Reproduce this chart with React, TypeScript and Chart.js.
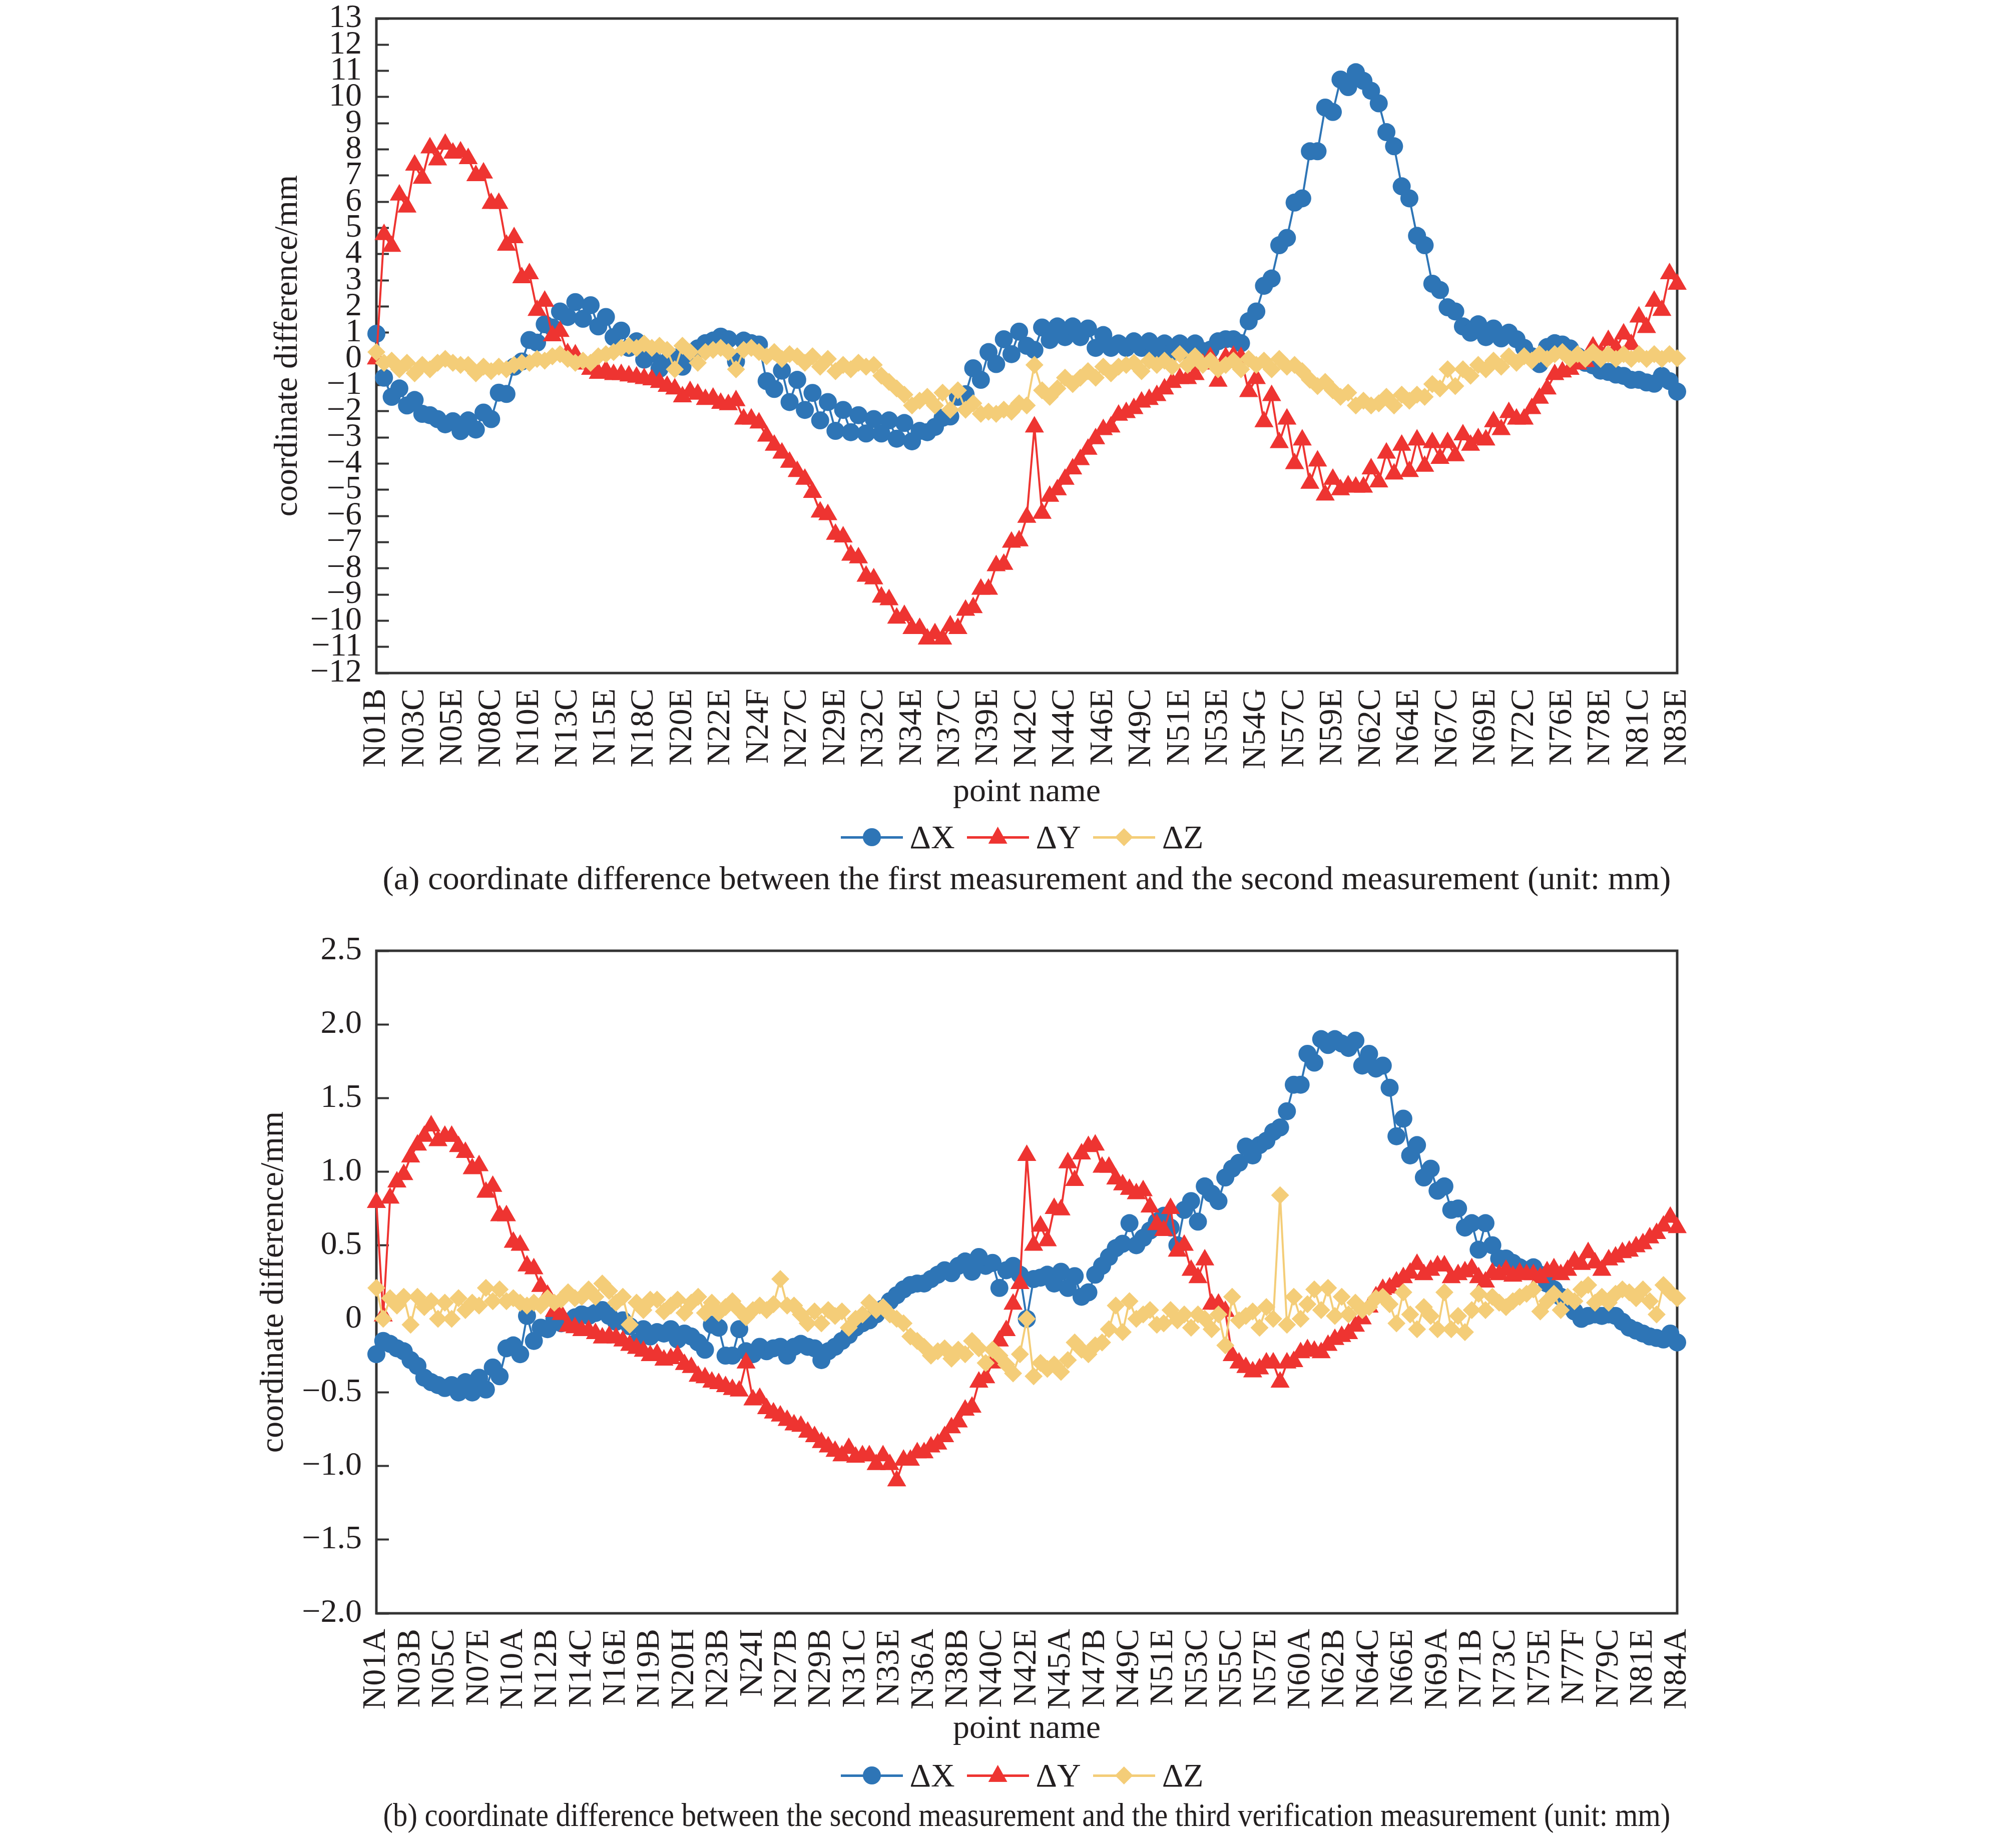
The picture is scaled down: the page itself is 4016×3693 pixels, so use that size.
import React, { useEffect, useRef } from 'react';
import { Chart, registerables } from 'chart.js';

Chart.register(...registerables);

const FONT = "'Liberation Serif', 'DejaVu Serif', serif";
const TEXT = '#231f20';
const AXIS = '#333333';
const BLUE = '#2e75b6';
const RED = '#ee3431';
const YELLOW = '#f4cd78';

// ---------- (a) first vs second measurement ----------
const topTickLabels = ['N01B', 'N03C', 'N05E', 'N08C', 'N10E', 'N13C', 'N15E', 'N18C', 'N20E', 'N22E', 'N24F', 'N27C', 'N29E', 'N32C', 'N34E', 'N37C', 'N39E', 'N42C', 'N44C', 'N46E', 'N49C', 'N51E', 'N53E', 'N54G', 'N57C', 'N59E', 'N62C', 'N64E', 'N67C', 'N69E', 'N72C', 'N76E', 'N78E', 'N81C', 'N83E'];

const topDX = [
  0.96, -0.72, -1.45, -1.13, -1.78, -1.57, -2.1, -2.15, -2.3, -2.5,
  -2.38, -2.76, -2.35, -2.7, -2.05, -2.3, -1.29, -1.34, -0.3, -0.1,
  0.72, 0.62, 1.32, 1.2, 1.81, 1.6, 2.17, 1.53, 2.05, 1.24,
  1.6, 0.83, 1.08, 0.42, 0.67, -0.03, 0.2, -0.38, -0.1, 0.05,
  -0.3, 0.2, 0.4, 0.6, 0.7, 0.85, 0.75, -0.1, 0.7, 0.6,
  0.55, -0.85, -1.15, -0.45, -1.65, -0.8, -1.95, -1.3, -2.35, -1.65,
  -2.75, -1.95, -2.8, -2.15, -2.85, -2.3, -2.85, -2.35, -3.05, -2.45,
  -3.15, -2.75, -2.8, -2.6, -2.25, -2.2, -1.45, -1.35, -0.36, -0.8,
  0.26, -0.2, 0.75, 0.18, 1.04, 0.5, 0.34, 1.2, 0.72, 1.24,
  0.83, 1.24, 0.83, 1.16, 0.42, 0.91, 0.42, 0.59, 0.42, 0.67,
  0.42, 0.67, 0.34, 0.59, 0.26, 0.59, 0.26, 0.59, 0.3, 0.35,
  0.67, 0.75, 0.75, 0.6, 1.44, 1.81, 2.79, 3.07, 4.34, 4.62,
  5.97, 6.13, 7.93, 7.93, 9.6, 9.43, 10.67, 10.38, 10.95, 10.62,
  10.24, 9.76, 8.66, 8.12, 6.59, 6.13, 4.7, 4.34, 2.87, 2.63,
  1.97, 1.81, 1.24, 1.0, 1.32, 0.83, 1.16, 0.78, 1.0, 0.75,
  0.42, 0.1, -0.2, 0.45, 0.6, 0.55, 0.4, 0.1, -0.15, -0.25,
  -0.45, -0.5, -0.6, -0.65, -0.8, -0.8, -0.9, -0.95, -0.65, -0.85,
  -1.25,
];

const topDY = [
  0, 4.75, 4.3, 6.26, 5.8, 7.4, 6.9, 8.06, 7.6, 8.2,
  7.86, 7.9, 7.65, 7.0, 7.1, 5.94, 5.94, 4.34, 4.63, 3.1,
  3.25, 1.85, 2.2, 0.88, 1.05, 0.2, 0.15, -0.2, -0.4, -0.55,
  -0.45, -0.6, -0.6, -0.65, -0.7, -0.75, -0.8, -0.9, -1.05, -1.15,
  -1.45, -1.25, -1.35, -1.55, -1.5, -1.7, -1.75, -1.6, -2.3, -2.3,
  -2.45, -2.95, -3.3, -3.6, -3.95, -4.3, -4.6, -5.1, -5.85, -5.95,
  -6.7, -6.8, -7.5, -7.6, -8.3, -8.4, -9.1, -9.2, -9.9, -9.8,
  -10.3, -10.3, -10.7, -10.5, -10.7, -10.2, -10.3, -9.6, -9.5, -8.8,
  -8.8, -7.9, -7.85, -7.0, -6.95, -6.05, -2.6, -5.9, -5.25, -5.0,
  -4.6, -4.2, -3.85, -3.45, -3.05, -2.7, -2.6, -2.15, -2.05, -1.9,
  -1.65, -1.55, -1.4, -1.15, -0.9, -0.75, -0.75, -0.6, -0.2, 0.05,
  -0.85, 0.05, 0.1, 0.05, -1.25, -0.75, -2.4, -1.4, -3.2, -2.3,
  -4.0, -3.1, -4.75, -3.9, -5.2, -4.6, -5.0, -4.85, -4.9, -4.9,
  -4.2, -4.7, -3.6, -4.4, -3.3, -4.3, -3.1, -4.1, -3.2, -3.8,
  -3.2, -3.7, -2.9, -3.3, -3.05, -3.1, -2.4, -2.7, -2.05, -2.3,
  -2.3, -1.9, -1.5, -1.15, -0.6, -0.5, -0.4, -0.2, -0.1, 0.45,
  0.2, 0.7, 0.4, 0.95, 0.55, 1.6, 1.2, 2.2, 1.85, 3.25,
  2.85,
];

const topDZ = [
  0.26, -0.15, -0.07, -0.4, -0.15, -0.55, -0.23, -0.4, -0.15, 0.0,
  -0.15, -0.23, -0.23, -0.55, -0.3, -0.47, -0.3, -0.4, -0.23, -0.15,
  -0.15, 0.0, -0.07, 0.1, 0.18, 0.0, -0.15, -0.07, -0.15, 0.1,
  0.18, 0.26, 0.42, 0.5, 0.42, 0.58, 0.42, 0.5, 0.34, -0.4,
  0.5, 0.26, -0.15, 0.26, 0.34, 0.42, 0.26, -0.4, 0.34, 0.42,
  0.26, 0.1, 0.26, 0.0, 0.18, 0.1, -0.15, 0.1, -0.3, 0.0,
  -0.47, -0.23, -0.4, -0.15, -0.3, -0.23, -0.64, -0.88, -1.13, -1.37,
  -1.78, -1.6, -1.45, -1.78, -1.29, -1.94, -1.2, -1.94, -1.7, -2.1,
  -2.02, -2.1, -1.94, -2.02, -1.7, -1.78, -0.23, -1.2, -1.45, -1.13,
  -0.72, -0.96, -0.72, -0.47, -0.72, -0.3, -0.55, -0.3, -0.23, -0.15,
  -0.47, -0.07, -0.23, -0.07, -0.3, 0.18, -0.23, 0.1, -0.23, -0.07,
  -0.4, -0.23, -0.07, -0.4, 0.0, -0.23, -0.07, -0.4, 0.0, -0.3,
  -0.23, -0.47, -0.8, -1.04, -0.88, -1.2, -1.45, -1.29, -1.78, -1.6,
  -1.78, -1.7, -1.45, -1.78, -1.37, -1.6, -1.37, -1.45, -0.96, -1.13,
  -0.4, -1.04, -0.4, -0.64, -0.23, -0.4, -0.07, -0.3, 0.1, -0.15,
  0.1, -0.07, 0.18, 0.0, 0.18, 0.26, 0.0, 0.18, 0.0, 0.26,
  0.0, 0.18, 0.0, 0.18, 0.0, 0.18, 0.0, 0.18, 0.0, 0.18,
  0.02,
];

// ---------- (b) second vs third verification measurement ----------
const bottomTickLabels = ['N01A', 'N03B', 'N05C', 'N07E', 'N10A', 'N12B', 'N14C', 'N16E', 'N19B', 'N20H', 'N23B', 'N24I', 'N27B', 'N29B', 'N31C', 'N33E', 'N36A', 'N38B', 'N40C', 'N42E', 'N45A', 'N47B', 'N49C', 'N51E', 'N53C', 'N55C', 'N57E', 'N60A', 'N62B', 'N64C', 'N66E', 'N69A', 'N71B', 'N73C', 'N75E', 'N77F', 'N79C', 'N81E', 'N84A'];

const bottomDX = [
  -0.24, -0.15, -0.17, -0.2, -0.22, -0.28, -0.32, -0.4, -0.43, -0.45,
  -0.47, -0.45, -0.5, -0.43, -0.5, -0.4, -0.48, -0.33, -0.39, -0.2,
  -0.18, -0.24, 0.02, -0.15, -0.06, -0.07, 0.0, -0.03, -0.02, 0.01,
  0.03, 0.02, 0.04, 0.06, 0.02, -0.02, -0.01, -0.05, -0.16, -0.07,
  -0.12, -0.09, -0.1, -0.07, -0.14, -0.1, -0.12, -0.16, -0.21, -0.04,
  -0.06, -0.25, -0.25, -0.07, -0.22, -0.24, -0.19, -0.22, -0.2, -0.19,
  -0.25, -0.19, -0.17, -0.19, -0.2, -0.28, -0.22, -0.19, -0.15, -0.11,
  -0.06, -0.03, -0.01, 0.03, 0.07, 0.12, 0.16, 0.2, 0.23, 0.24,
  0.24, 0.27, 0.3, 0.33, 0.31, 0.36, 0.39, 0.32, 0.42, 0.36,
  0.38, 0.21, 0.33, 0.36, 0.3, 0.0, 0.27, 0.28, 0.3, 0.24,
  0.32, 0.21, 0.29, 0.15, 0.18, 0.3, 0.36, 0.42, 0.48, 0.51,
  0.65, 0.5, 0.55, 0.6, 0.66, 0.7, 0.62, 0.5, 0.74, 0.8,
  0.66, 0.9, 0.85, 0.8, 0.96, 1.02, 1.06, 1.17, 1.11, 1.18,
  1.21, 1.27, 1.3, 1.41, 1.59, 1.59, 1.8, 1.74, 1.9, 1.86,
  1.9, 1.87, 1.84, 1.89, 1.72, 1.8, 1.7, 1.72, 1.57, 1.24,
  1.36, 1.11, 1.18, 0.96, 1.02, 0.87, 0.9, 0.74, 0.75, 0.62,
  0.65, 0.47, 0.65, 0.5, 0.41, 0.41, 0.38, 0.35, 0.33, 0.35,
  0.3, 0.24, 0.2, 0.15, 0.09, 0.05, 0.0, 0.02, 0.03, 0.02,
  0.03, 0.02, -0.02, -0.06, -0.08, -0.1, -0.12, -0.13, -0.14, -0.1,
  -0.16,
];

const bottomDY = [
  0.79, 0.02, 0.82, 0.93, 0.98, 1.1, 1.18, 1.24, 1.31, 1.21,
  1.24, 1.24, 1.17, 1.13, 1.02, 1.04, 0.86, 0.9, 0.7, 0.7,
  0.52, 0.5, 0.36, 0.34, 0.22, 0.16, 0.05, 0.03, -0.05, -0.06,
  -0.08, -0.08, -0.1, -0.13, -0.12, -0.13, -0.15, -0.18, -0.2, -0.22,
  -0.25, -0.24, -0.28, -0.27, -0.25, -0.31, -0.33, -0.39, -0.4, -0.43,
  -0.44, -0.46, -0.48, -0.49, -0.3, -0.55, -0.54, -0.61, -0.64, -0.66,
  -0.69, -0.72, -0.73, -0.77, -0.8, -0.84, -0.87, -0.9, -0.93, -0.88,
  -0.94, -0.93, -0.93, -0.99, -0.93, -0.99, -1.1, -0.96, -0.96, -0.91,
  -0.91, -0.87, -0.85, -0.8, -0.74, -0.7, -0.62, -0.6, -0.43, -0.4,
  -0.3, -0.15, -0.08, 0.1, 0.24, 1.11, 0.5, 0.63, 0.53, 0.75,
  0.74, 1.06, 0.94, 1.12, 1.17, 1.18, 1.03, 1.03, 0.95, 0.91,
  0.88, 0.85, 0.87, 0.76, 0.64, 0.6, 0.75, 0.46, 0.5, 0.33,
  0.28, 0.4, 0.1, 0.1, 0.05, -0.25, -0.3, -0.33, -0.36, -0.34,
  -0.3, -0.3, -0.43, -0.3, -0.29, -0.23, -0.21, -0.22, -0.23, -0.18,
  -0.14, -0.12, -0.1, -0.05, 0.0, 0.08, 0.15, 0.2, 0.21, 0.25,
  0.28, 0.31, 0.37, 0.3, 0.33, 0.36, 0.36, 0.28, 0.3, 0.32,
  0.34, 0.28, 0.25, 0.31, 0.3, 0.33, 0.29, 0.31, 0.3, 0.3,
  0.28, 0.32, 0.34, 0.3, 0.33, 0.39, 0.37, 0.45, 0.38, 0.33,
  0.4, 0.42, 0.45, 0.46, 0.49, 0.51, 0.55, 0.58, 0.63, 0.69,
  0.62,
];

const bottomDZ = [
  0.21, 0.0, 0.14, 0.09, 0.15, -0.04, 0.15, 0.08, 0.12, 0.0,
  0.11, 0.0, 0.14, 0.06, 0.11, 0.09, 0.21, 0.12, 0.2, 0.12,
  0.14, 0.11, 0.09, 0.11, 0.09, 0.14, 0.11, 0.13, 0.18, 0.14,
  0.15, 0.2, 0.15, 0.24, 0.19, 0.11, 0.15, -0.04, 0.11, 0.06,
  0.13, 0.13, 0.05, 0.09, 0.13, 0.04, 0.11, 0.15, 0.04, 0.11,
  0.04, 0.08, 0.12, 0.06, 0.01, 0.06, 0.09, 0.06, 0.1, 0.27,
  0.09, 0.09, 0.03, -0.03, 0.05, -0.03, 0.06, 0.02, 0.05, -0.06,
  0.0, 0.03, 0.11, 0.06, 0.08, 0.03, 0.0, -0.03, -0.12, -0.15,
  -0.19, -0.25, -0.22, -0.2, -0.27, -0.21, -0.24, -0.15, -0.2, -0.3,
  -0.21, -0.25, -0.31, -0.37, -0.24, 0.0, -0.39, -0.3, -0.34, -0.31,
  -0.36, -0.28, -0.16, -0.21, -0.24, -0.18, -0.16, -0.07, 0.09, -0.09,
  0.12, 0.0, 0.03, 0.06, -0.04, -0.03, 0.06, -0.01, 0.03, -0.06,
  0.03, 0.0, -0.07, 0.03, -0.18, 0.15, -0.01, 0.02, 0.05, -0.06,
  0.08, 0.0, 0.84, -0.04, 0.15, 0.0, 0.1, 0.2, 0.06, 0.21,
  0.02, 0.15, 0.03, 0.11, 0.06, 0.08, 0.14, 0.15, 0.1, -0.03,
  0.18, 0.03, -0.07, 0.08, 0.02, -0.07, 0.18, -0.07, 0.02, -0.09,
  0.06, 0.17, 0.06, 0.15, 0.11, 0.08, 0.12, 0.15, 0.17, 0.2,
  0.05, 0.12, 0.17, 0.06, 0.15, 0.12, 0.2, 0.23, 0.11, 0.15,
  0.11, 0.17, 0.2, 0.18, 0.14, 0.2, 0.12, 0.03, 0.23, 0.18,
  0.14,
];

const seriesNames = ['\u0394X', '\u0394Y', '\u0394Z'];
const seriesColors = [BLUE, RED, YELLOW];
const yTitle = 'coordinate difference/mm';
const xTitle = 'point name';
const captionTop = '(a) coordinate difference between the first measurement and the second measurement (unit: mm)';
const captionBottom = '(b) coordinate difference between the second measurement and the third verification measurement (unit: mm)';

const PAGE_W = 4016;
const PLOT_LEFT = 752;
const PLOT_RIGHT = 3351;

const framePlugin = {
  id: 'frame',
  beforeDatasetsDraw(chart: any) {
    const { ctx, chartArea: a } = chart;
    ctx.save();
    ctx.strokeStyle = AXIS;
    ctx.lineWidth = 5;
    ctx.strokeRect(a.left, a.top, a.right - a.left, a.bottom - a.top);
    ctx.restore();
  },
};

const minus = (s: string) => s.replace('-', '\u2212');

function makeConfig(p: {
  dx: number[]; dy: number[]; dz: number[]; labels: string[];
  height: number; plotTop: number; plotBottom: number;
  yMin: number; yMax: number; yStep: number; yFmt: (v: number) => string;
  yTitleCenter: number; xTitleMiddle: number;
}) {
  const font = { family: FONT, size: 66 };
  const n = p.dx.length;
  const mk = (vals: number[]) => vals.map((y, i) => ({ x: i, y }));
  const base = { borderWidth: 4, pointBorderWidth: 0, clip: false as any, tension: 0, fill: false };
  const lineHeight = 66 * 1.2;
  return {
    type: 'line' as const,
    data: {
      datasets: [
        { ...base, label: seriesNames[0], data: mk(p.dx), borderColor: BLUE, backgroundColor: BLUE, pointBackgroundColor: BLUE, pointStyle: 'circle', pointRadius: 18, order: 3 },
        { ...base, label: seriesNames[1], data: mk(p.dy), borderColor: RED, backgroundColor: RED, pointBackgroundColor: RED, pointStyle: 'triangle', pointRadius: 22, order: 2 },
        { ...base, label: seriesNames[2], data: mk(p.dz), borderColor: YELLOW, backgroundColor: YELLOW, pointBackgroundColor: YELLOW, pointStyle: 'rectRot', pointRadius: 18, order: 1 },
      ],
    },
    options: {
      animation: false as const,
      responsive: false,
      devicePixelRatio: 1,
      events: [],
      layout: { padding: { top: p.plotTop, right: PAGE_W - PLOT_RIGHT, left: 0, bottom: 0 } },
      plugins: { legend: { display: false }, tooltip: { enabled: false }, title: { display: false } },
      scales: {
        x: {
          type: 'linear' as const,
          min: 0,
          max: n - 1,
          offset: false,
          afterFit: (s: any) => { s.height = p.height - p.plotBottom; s.paddingLeft = 0; s.paddingRight = 0; },
          grid: { display: true, drawOnChartArea: false, drawTicks: false },
          border: { display: false },
          ticks: {
            stepSize: 5,
            autoSkip: false,
            maxRotation: 90,
            minRotation: 90,
            padding: 31,
            font,
            color: TEXT,
            callback: (v: any) => p.labels[Math.round(Number(v) / 5)] ?? '',
          },
          title: {
            display: true, text: xTitle, font, color: TEXT,
            padding: { top: 0, bottom: p.height - lineHeight / 2 - p.xTitleMiddle },
          },
        },
        y: {
          type: 'linear' as const,
          min: p.yMin,
          max: p.yMax,
          afterFit: (s: any) => { s.width = PLOT_LEFT; s.paddingTop = 0; s.paddingBottom = 0; },
          grid: { display: true, drawOnChartArea: false, drawTicks: true, tickLength: -25, tickWidth: 4, tickColor: AXIS },
          border: { display: false },
          ticks: { stepSize: p.yStep, autoSkip: false, padding: 54, font, color: TEXT, callback: (v: any) => p.yFmt(Number(v)) },
          title: {
            display: true, text: yTitle, font, color: TEXT,
            padding: { top: p.yTitleCenter - lineHeight / 2, bottom: 0 },
          },
        },
      },
    },
    plugins: [framePlugin],
  };
}

function Marker({ shape, color }: { shape: string; color: string }) {
  const st: React.CSSProperties = { position: 'absolute', left: '50%', top: '50%', background: color };
  if (shape === 'circle') {
    Object.assign(st, { width: 36, height: 36, borderRadius: '50%', transform: 'translate(-50%,-50%)' });
  } else if (shape === 'triangle') {
    Object.assign(st, { width: 38, height: 34, clipPath: 'polygon(50% 0, 100% 100%, 0 100%)', transform: 'translate(-50%,-62%)' });
  } else {
    Object.assign(st, { width: 36, height: 36, clipPath: 'polygon(50% 0, 100% 50%, 50% 100%, 0 50%)', transform: 'translate(-50%,-50%)' });
  }
  return <div style={st} />;
}

function Legend({ top }: { top: number }) {
  const shapes = ['circle', 'triangle', 'diamond'];
  return (
    <div style={{ position: 'absolute', left: 0, top, width: 4084, height: 66, display: 'flex', justifyContent: 'center', alignItems: 'center', gap: 24, fontFamily: FONT, fontSize: 66, lineHeight: '66px', color: TEXT }}>
      {seriesNames.map((name, k) => (
        <div key={name} style={{ display: 'flex', alignItems: 'center' }}>
          <div style={{ position: 'relative', width: 124, height: 40 }}>
            <div style={{ position: 'absolute', left: 0, right: 0, top: 18, height: 5, background: seriesColors[k] }} />
            <Marker shape={shapes[k]} color={seriesColors[k]} />
          </div>
          <span style={{ marginLeft: 14 }}>{name}</span>
        </div>
      ))}
    </div>
  );
}

function Caption({ top, text, squeeze }: { top: number; text: string; squeeze: number }) {
  return (
    <div style={{ position: 'absolute', left: PLOT_LEFT - 400, width: PLOT_RIGHT - PLOT_LEFT + 800, top, textAlign: 'center', whiteSpace: 'nowrap', fontFamily: FONT, fontSize: 66, lineHeight: '66px', color: TEXT, transform: `scaleX(${squeeze})`, transformOrigin: '50% 50%' }}>
      {text}
    </div>
  );
}

const TOP_CANVAS = { top: 0, height: 1640 };
const BOTTOM_CANVAS = { top: 1800, height: 1700 };

export default function App() {
  const topRef = useRef<HTMLCanvasElement>(null);
  const bottomRef = useRef<HTMLCanvasElement>(null);

  useEffect(() => {
    const c1 = new Chart(topRef.current as HTMLCanvasElement, makeConfig({
      dx: topDX, dy: topDY, dz: topDZ, labels: topTickLabels,
      height: TOP_CANVAS.height, plotTop: 37, plotBottom: 1345,
      yMin: -12, yMax: 13, yStep: 1,
      yFmt: (v) => minus(String(v)),
      yTitleCenter: 576, xTitleMiddle: 1584,
    }) as any);
    const off = BOTTOM_CANVAS.top;
    const c2 = new Chart(bottomRef.current as HTMLCanvasElement, makeConfig({
      dx: bottomDX, dy: bottomDY, dz: bottomDZ, labels: bottomTickLabels,
      height: BOTTOM_CANVAS.height, plotTop: 1900 - off, plotBottom: 3224 - off,
      yMin: -2, yMax: 2.5, yStep: 0.5,
      yFmt: (v) => (Math.abs(v) < 1e-9 ? '0' : minus(v.toFixed(1))),
      yTitleCenter: 548, xTitleMiddle: 3456 - off,
    }) as any);
    return () => { c1.destroy(); c2.destroy(); };
  }, []);

  return (
    <div style={{ position: 'absolute', left: 0, top: 0, width: PAGE_W, height: 3693, background: '#ffffff', overflow: 'hidden' }}>
      <canvas ref={topRef} width={PAGE_W} height={TOP_CANVAS.height} style={{ position: 'absolute', left: 0, top: TOP_CANVAS.top, width: PAGE_W, height: TOP_CANVAS.height }} />
      <Legend top={1640} />
      <Caption top={1722} text={captionTop} squeeze={1.008} />
      <canvas ref={bottomRef} width={PAGE_W} height={BOTTOM_CANVAS.height} style={{ position: 'absolute', left: 0, top: BOTTOM_CANVAS.top, width: PAGE_W, height: BOTTOM_CANVAS.height }} />
      <Legend top={3515} />
      <Caption top={3594} text={captionBottom} squeeze={0.888} />
    </div>
  );
}
